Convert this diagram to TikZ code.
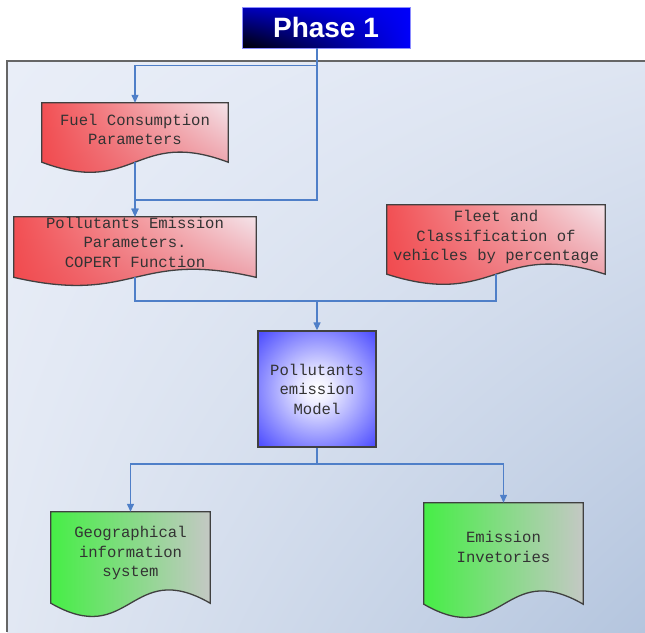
\documentclass[tikz,border=0pt]{standalone}
\usepackage{fontspec}
\usepackage{tikz}
\usetikzlibrary{positioning,arrows.meta,backgrounds,shadings}
\newfontfamily\codefont{Liberation Mono}
\newfontfamily\headfont{Liberation Sans}
\definecolor{linkblue}{RGB}{79,127,200}
\definecolor{edgegray}{RGB}{64,64,64}
\definecolor{panelA}{RGB}{233,238,248}
\definecolor{panelB}{RGB}{222,229,242}
\definecolor{panelC}{RGB}{226,232,243}
\definecolor{panelD}{RGB}{180,197,222}
\definecolor{redA}{RGB}{242,80,84}
\definecolor{redB}{RGB}{244,228,234}
\definecolor{redC}{RGB}{240,72,76}
\definecolor{redD}{RGB}{234,130,140}
\definecolor{greenL}{RGB}{70,238,70}
\definecolor{greenR}{RGB}{196,200,196}
\definecolor{modelblue}{RGB}{80,80,255}
\definecolor{phaseblue}{RGB}{0,0,250}
\pgfdeclareradialshading{modelglow}{\pgfpoint{0bp}{0bp}}{color(0bp)=(white); color(6bp)=(white!90!modelblue); color(34bp)=(modelblue); color(50bp)=(modelblue!88!black)}
% document shape with wavy bottom: node, wave depth, style
\newcommand{\docshape}[3]{\path[#3] (#1.north west) -- (#1.north east) -- (#1.south east) .. controls ([yshift=#2pt]#1.south) and ([yshift=-#2pt]#1.south) .. (#1.south west) -- cycle;}

\begin{document}
\begin{tikzpicture}[x=1pt, y=-1pt,
  doc/.style={align=center, inner sep=0pt, text=black!80,
    font=\codefont\fontsize{15.6}{19.5}\selectfont},
  lift/.style={text depth=#1},
  redfill/.style={draw=edgegray, line width=1.3pt, shading=bilinear interpolation,
    upper left=redA, upper right=redB, lower left=redC, lower right=redD},
  greenfill/.style={draw=edgegray, line width=1.3pt, left color=greenL, right color=greenR},
  lnk/.style={draw=linkblue, line width=1.3pt},
  arr/.style={lnk, -{Triangle[length=8pt,width=7pt]}}]
\useasboundingbox (0,0) rectangle (645,632);
% panel
\begin{scope}[on background layer]
\fill[white] (0,0) rectangle (645,632);
\shade[shading=bilinear interpolation, upper left=panelA, upper right=panelB,
  lower left=panelC, lower right=panelD] (7,61) rectangle (645,632);
\draw[draw=black!60, line width=2pt] (645,61) -- (7,61) -- (7,632);
\end{scope}
% title
\node[shade, shading=bilinear interpolation, upper left=phaseblue!75!black, upper right=phaseblue,
  lower left=black, lower right=phaseblue, draw=blue!45!white, line width=0.6pt,
  minimum width=168, minimum height=41, inner sep=0pt,
  text=white, font=\headfont\bfseries\fontsize{28}{30}\selectfont] (phase) at (326,27.5) {Phase 1};
% inputs
\node[doc, lift=6pt, minimum width=186, minimum height=59] (fuel) at (135,132.5) {Fuel Consumption\\Parameters};
\node[doc, lift=10pt, minimum width=242, minimum height=60] (pem) at (135,247) {Pollutants Emission\\Parameters.\\COPERT Function};
\node[doc, lift=8pt, minimum width=218, minimum height=69] (fleet) at (496,239.5) {Fleet and\\Classification of\\vehicles by percentage};
% model
\node[doc, draw=edgegray, line width=1.3pt, shading=modelglow, minimum width=118, minimum height=116] (model) at (317,389) {Pollutants\\emission\\Model};
% outputs
\node[doc, lift=12pt, minimum width=159, minimum height=91] (gis) at (130.5,557.5) {Geographical\\information\\system};
\node[doc, lift=13pt, minimum width=159, minimum height=101] (emi) at (503.5,553.5) {Emission\\Invetories};
\begin{scope}[on background layer]
\docshape{fuel}{35}{redfill}
\docshape{pem}{28}{redfill}
\docshape{fleet}{35}{redfill}
\docshape{gis}{46}{greenfill}
\docshape{emi}{46}{greenfill}
\end{scope}
\coordinate (upfork) at (317,200);
\coordinate (infork) at (317,301);
\coordinate (outfork) at (317,464);
\draw[arr] (phase.south -| model.north) -- ++(0,17) -| (fuel.north);
\draw[arr] (phase.south -| model.north) -- (upfork) -| (pem.north);
\draw[arr] (fuel.south) -- (pem.north);
\draw[lnk] (pem.south) |- (infork);
\draw[lnk] (fleet.south) |- (infork);
\draw[arr] (infork) -- (model.north);
\draw[lnk] (model.south) -- (outfork);
\draw[arr] (outfork) -| (gis.north);
\draw[arr] (outfork) -| (emi.north);
\end{tikzpicture}
\end{document}
